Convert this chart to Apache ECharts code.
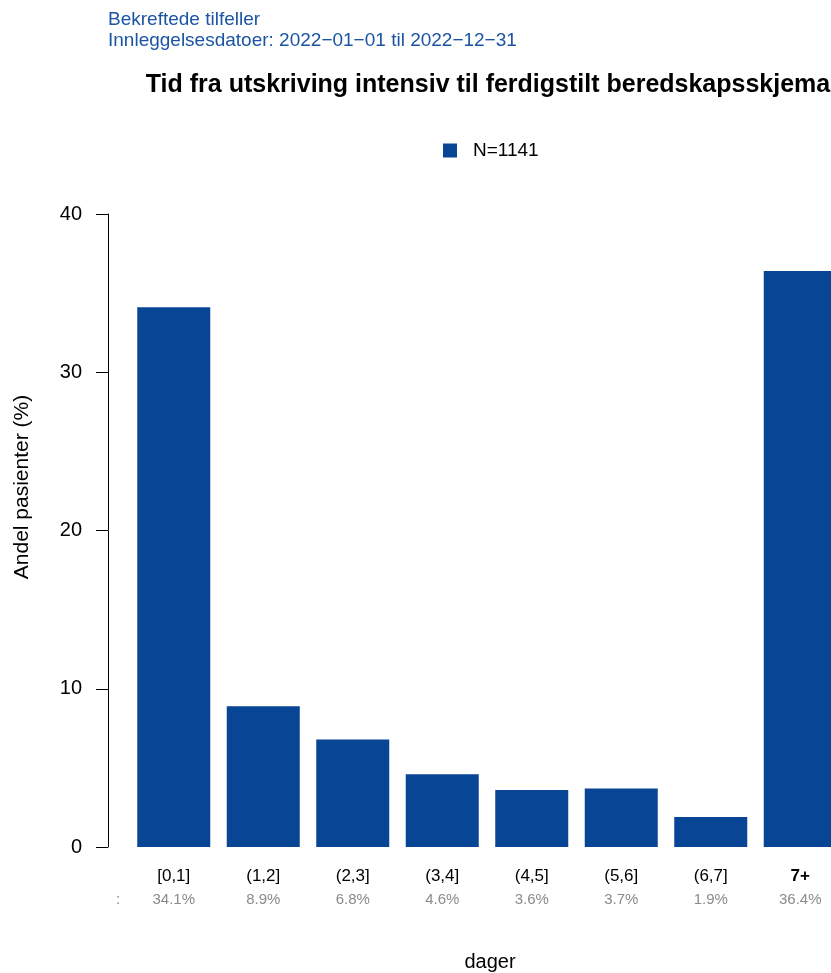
<!DOCTYPE html>
<html>
<head>
<meta charset="utf-8">
<script src="https://cdn.jsdelivr.net/npm/echarts@6/dist/echarts.min.js"></script>
<style>
  html, body { margin: 0; padding: 0; background: #fff; }
  #chart { width: 831px; height: 973px; }
</style>
</head>
<body>
<div id="chart"></div>
<script>
var categories = ['[0,1]', '(1,2]', '(2,3]', '(3,4]', '(4,5]', '(5,6]', '(6,7]', '7+'];
var andel = [34.1, 8.9, 6.8, 4.6, 3.6, 3.7, 1.9, 36.4];
var prosentTekst = ['34.1%', '8.9%', '6.8%', '4.6%', '3.6%', '3.7%', '1.9%', '36.4%'];
var yTicks = [0, 10, 20, 30, 40];

var font = '"Liberation Sans", Arial, sans-serif';
var barColor = '#084594';

var chart = echarts.init(document.getElementById('chart'));
var option = {
  animation: false,
  textStyle: { fontFamily: font },
  title: [
    {
      text: 'Bekreftede tilfeller\nInnleggelsesdatoer: 2022\u221201\u221201 til 2022\u221212\u221231',
      left: 108,
      top: 9,
      padding: 0,
      textStyle: { fontFamily: font, fontSize: 19, fontWeight: 'normal', color: '#1b54a3', lineHeight: 21 }
    },
    {
      text: 'Tid fra utskriving intensiv til ferdigstilt beredskapsskjema',
      left: 488,
      top: 73,
      padding: 0,
      textAlign: 'center',
      textStyle: { fontFamily: font, fontSize: 25, fontWeight: 'bold', color: '#000' }
    }
  ],
  legend: {
    data: ['N=1141'],
    left: 443,
    top: 141,
    padding: 0,
    icon: 'rect',
    itemWidth: 14,
    itemHeight: 14,
    itemGap: 10,
    textStyle: { fontFamily: font, fontSize: 19, color: '#000', padding: [0, 0, 0, 11] }
  },
  grid: { left: 129, width: 716, top: 214, bottom: 126, outerBoundsMode: 'none' },
  xAxis: {
    type: 'category',
    data: categories,
    axisLine: { show: false },
    axisTick: { show: false },
    axisLabel: {
      interval: 0,
      margin: 17,
      formatter: function (value, idx) {
        var stil = value === '7+' ? 'c' : 'a';
        return '{' + stil + '|' + value + '}\n{b|' + prosentTekst[idx] + '}';
      },
      rich: {
        a: { fontFamily: font, fontSize: 17, color: '#000', lineHeight: 24 },
        c: { fontFamily: font, fontSize: 17, fontWeight: 'bold', color: '#000', lineHeight: 24 },
        b: { fontFamily: font, fontSize: 15, color: '#8a8a8a', lineHeight: 24 }
      }
    }
  },
  yAxis: {
    type: 'value',
    min: yTicks[0],
    max: yTicks[yTicks.length - 1],
    interval: 10,
    offset: 21,
    axisLine: { show: true, lineStyle: { color: '#000', width: 1 } },
    axisTick: { show: true, length: 12, lineStyle: { color: '#000' } },
    axisLabel: { fontFamily: font, fontSize: 20, color: '#000', margin: 26 },
    splitLine: { show: false }
  },
  graphic: [
    {
      type: 'text',
      x: 22,
      y: 487,
      rotation: Math.PI / 2,
      style: {
        text: 'Andel pasienter (%)',
        font: '21px ' + font,
        fill: '#000',
        align: 'center',
        verticalAlign: 'middle'
      }
    },
    {
      type: 'text',
      x: 490,
      y: 962,
      style: {
        text: 'dager',
        font: '20px ' + font,
        fill: '#000',
        align: 'center',
        verticalAlign: 'middle'
      }
    },
    {
      type: 'text',
      x: 118,
      y: 900,
      style: {
        text: ':',
        font: '15px ' + font,
        fill: '#8a8a8a',
        align: 'center',
        verticalAlign: 'middle'
      }
    }
  ],
  series: [
    {
      name: 'N=1141',
      type: 'bar',
      data: andel,
      barWidth: 73,
      itemStyle: { color: barColor }
    }
  ]
};
chart.setOption(option);
</script>
</body>
</html>
